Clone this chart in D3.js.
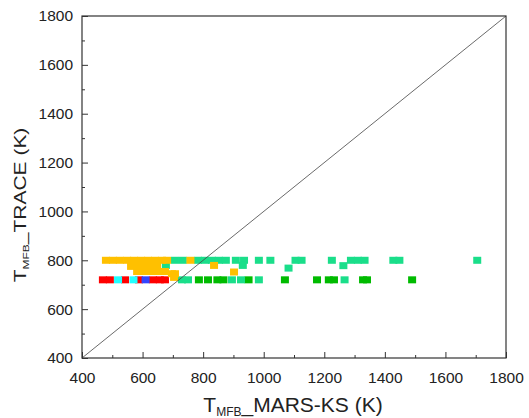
<!DOCTYPE html>
<html><head><meta charset="utf-8">
<script src="https://cdn.jsdelivr.net/npm/d3@7"></script>
<style>body{margin:0;background:#fff}svg{display:block}text{font-family:"Liberation Sans",Arial,sans-serif;fill:#222}</style>
</head><body><svg id="c" width="529" height="418"></svg>
<script>
const xTicks = [400,600,800,1000,1200,1400,1600,1800];
const yTicks = [400,600,800,1000,1200,1400,1600,1800];
const minorTicks = [500,700,900,1100,1300,1500,1700];
// series: [MARS-KS, TRACE]
const redPts = [[469,720],[492,720],[542,720],[588,720],[634,720],[657,720],[674,720]];
const cyanPts = [[519,720],[570,720]];
const bluePts = [[610,720]];
const greenPts = [[786,720],[816,720],[847,720],[867,720],[950,720],[1070,720],[1176,720],[1215,720],[1232,720],[1328,720],[1341,720],[1490,720]];
const tealPts = [[730,720],[750,720],[895,720],[925,720],[984,720],[1267,720],
  [707,800],[733,800],[783,800],[806,800],[829,800],[852,800],[875,800],[908,800],[935,800],[931,779],
  [984,800],[1022,800],[1082,768],[1105,800],[1125,800],[1225,800],[1263,778],[1288,800],[1311,800],[1333,800],
  [1428,800],[1448,800],[1705,800],[677,779]];
const orangePts = [[479,800],[502,800],[525,800],[549,800],[572,800],[595,800],[618,800],[641,800],[664,800],[681,800],[758,800],
  [562,775],[585,775],[608,775],[631,775],[648,775],
  [582,754],[605,754],[628,754],[651,754],[674,754],[697,745],[707,745],[704,730],[836,779],[902,752]];
const diagonal = [[400,400],[1800,1800]];

const svg = d3.select("#c");
const L=82,T=16,R=506,B=358;
const x = d3.scaleLinear().domain([400,1800]).range([L,R]);
const y = d3.scaleLinear().domain([400,1800]).range([B,T]);

const series = [
  {pts:redPts,c:"#ff0000"},
  {pts:cyanPts,c:"#22ffff"},
  {pts:bluePts,c:"#3344ff"},
  {pts:greenPts,c:"#00bb00"},
  {pts:tealPts,c:"#1ade8a"},
  {pts:orangePts,c:"#ffc000"}
];
const w=8,h=7;
series.forEach(s=>{
  svg.append("g").selectAll("rect").data(s.pts).join("rect")
    .attr("x",d=>x(d[0])-w/2).attr("y",d=>y(d[1])-h/2)
    .attr("width",w).attr("height",h).attr("fill",s.c);
});

svg.append("line")
  .attr("x1",x(diagonal[0][0])).attr("y1",y(diagonal[0][1]))
  .attr("x2",x(diagonal[1][0])).attr("y2",y(diagonal[1][1]))
  .attr("stroke","#444").attr("stroke-width",0.8);

// frame
svg.append("rect").attr("x",L).attr("y",T).attr("width",R-L).attr("height",B-T)
  .attr("fill","none").attr("stroke","#333").attr("stroke-width",1.2);

// axes with inward ticks
const xa = svg.append("g").attr("transform",`translate(0,${B})`)
  .call(d3.axisBottom(x).tickValues(xTicks).tickSize(-6).tickPadding(14).tickFormat(d3.format("d")));
const ya = svg.append("g").attr("transform",`translate(${L},0)`)
  .call(d3.axisLeft(y).tickValues(yTicks).tickSize(-6).tickPadding(9).tickFormat(d3.format("d")));
[xa,ya].forEach(a=>{a.select(".domain").remove();a.selectAll("line").attr("stroke","#333");
  a.selectAll("text").style("font-size","15.5px").attr("fill","#222");});
svg.append("g").attr("transform",`translate(0,${B})`)
  .call(d3.axisBottom(x).tickValues(minorTicks).tickSize(-3).tickFormat(""))
  .call(g=>{g.select(".domain").remove();g.selectAll("line").attr("stroke","#333");});
svg.append("g").attr("transform",`translate(${L},0)`)
  .call(d3.axisLeft(y).tickValues(minorTicks).tickSize(-3).tickFormat(""))
  .call(g=>{g.select(".domain").remove();g.selectAll("line").attr("stroke","#333");});

// titles
const xt = svg.append("text").attr("x",293).attr("y",412).attr("text-anchor","middle").style("font-size","21px");
xt.append("tspan").text("T");
xt.append("tspan").attr("dy",4).style("font-size","12px").text("MFB");
xt.append("tspan").attr("dy",-4).text("_MARS-KS (K)");

const yt = svg.append("text").attr("transform","translate(26,205) rotate(-90) scale(1,0.8)")
  .attr("text-anchor","middle").style("font-size","21px");
yt.append("tspan").text("T");
yt.append("tspan").attr("dy",4).style("font-size","12px").text("MFB");
yt.append("tspan").attr("dy",-4).text("_TRACE (K)");
</script></body></html>
